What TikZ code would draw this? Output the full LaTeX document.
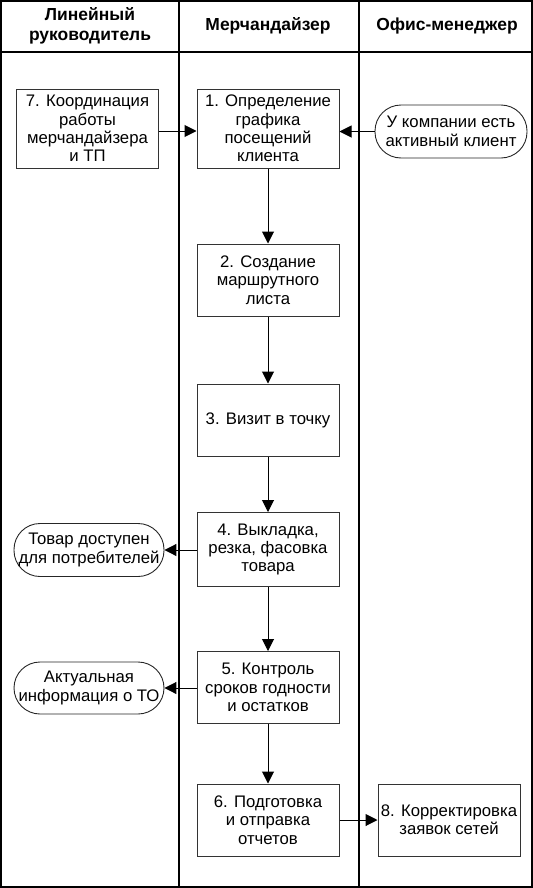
\documentclass[tikz,border=0pt]{standalone}
\usepackage{fontspec}
\setmainfont{Liberation Sans}
\usetikzlibrary{arrows.meta}
\begin{document}
\begin{tikzpicture}[x=1bp,y=-1bp,
  every node/.style={font=\fontsize{16.8}{18.5}\selectfont, align=center, inner sep=0pt},
  proc/.style={draw=black!80, line width=1bp, rectangle, minimum width=142bp, minimum height=72bp},
  term/.style={draw=black!85, line width=0.9bp, rectangle, rounded corners=26bp, minimum width=150bp, minimum height=53bp},
  head/.style={font=\fontsize{17.5}{20}\selectfont\bfseries},
  conn/.style={line width=1bp, -{Triangle[length=12bp,width=12bp]}},
  frame/.style={line width=1.4bp}]
\useasboundingbox (0,0) rectangle (533,888);
% frame and lanes
\draw[frame] (1,1) rectangle (532,887);
\draw[frame] (179,1) -- (179,887);
\draw[frame] (359,1) -- (359,887);
\draw[frame] (1,52) -- (532,52);
\node[head] (h1) at (90,26) {Линейный\\руководитель};
\node[head] (h2) at (268,26) {Мерчандайзер};
\node[head] (h3) at (447,26) {Офис-менеджер};
% nodes
\node[proc, minimum width=141bp, minimum height=79bp] (b7) at (87.5,128.5) {7. Координация\\работы\\мерчандайзера\\и ТП};
\node[proc, minimum height=79bp] (b1) at (268,128.5) {1. Определение\\графика\\посещений\\клиента};
\node[term, minimum width=152bp] (t0) at (451,131.5) {У компании есть\\активный клиент};
\node[proc] (b2) at (268,280) {2. Создание\\маршрутного\\листа};
\node[proc] (b3) at (268,420) {3. Визит в точку};
\node[proc, minimum height=74bp] (b4) at (268,549.5) {4. Выкладка,\\резка, фасовка\\товара};
\node[term] (t1) at (89,550) {Товар доступен\\для потребителей};
\node[proc] (b5) at (268,687.5) {5. Контроль\\сроков годности\\и остатков};
\node[term, minimum height=52bp] (t2) at (89,688) {Актуальная\\информация о ТО};
\node[proc] (b6) at (268,820) {6. Подготовка\\и отправка\\отчетов};
\node[proc] (b8) at (449,820) {8. Корректировка\\заявок сетей};
% connectors
\draw[conn] (b7.east |- 0,131) -- (b1.west |- 0,131);
\draw[conn] (t0.west) -- (b1.east |- t0.west);
\draw[conn] (b1) -- (b2);
\draw[conn] (b2) -- (b3);
\draw[conn] (b3) -- (b4);
\draw[conn] (b4.west |- t1.east) -- (t1.east);
\draw[conn] (b4) -- (b5);
\draw[conn] (b5.west |- t2.east) -- (t2.east);
\draw[conn] (b5) -- (b6);
\draw[conn] (b6) -- (b8);
\end{tikzpicture}
\end{document}
